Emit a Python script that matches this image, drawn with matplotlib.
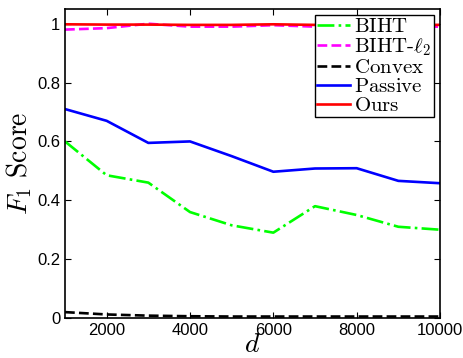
import matplotlib
matplotlib.use('Agg')
import matplotlib.pyplot as plt

plt.rcParams['mathtext.fontset'] = 'cm'
plt.rcParams['font.family'] = ['Liberation Sans', 'DejaVu Sans']

# F1 score vs dimension d
d = [1000, 2000, 3000, 4000, 5000, 6000, 7000, 8000, 9000, 10000]
biht = [0.60, 0.485, 0.46, 0.36, 0.315, 0.29, 0.38, 0.35, 0.31, 0.30]
biht_l2 = [0.98, 0.985, 1.0, 0.99, 0.99, 0.995, 0.99, 0.99, 0.99, 0.99]
convex = [0.02, 0.012, 0.008, 0.006, 0.005, 0.005, 0.005, 0.005, 0.005, 0.005]
passive = [0.71, 0.67, 0.595, 0.60, 0.55, 0.497, 0.508, 0.509, 0.466, 0.458]
ours = [0.998, 0.997, 0.997, 0.996, 0.996, 0.998, 0.996, 0.995, 0.995, 0.996]
labels = [r'$\mathrm{BIHT}$', r'$\mathrm{BIHT}\text{-}\ell_2$', r'$\mathrm{Convex}$',
          r'$\mathrm{Passive}$', r'$\mathrm{Ours}$']

fig = plt.figure(figsize=(4.64, 3.58), dpi=100)
ax = fig.add_axes([65 / 464, 40 / 358, 375 / 464, 309 / 358])

lw = 1.9
ax.plot(d, biht, color=(0, 1, 0), linestyle='-.', lw=lw, label=labels[0])
ax.plot(d, biht_l2, color=(1, 0, 1), linestyle='--', lw=lw, label=labels[1])
ax.plot(d, convex, color='black', linestyle='--', lw=lw, label=labels[2])
ax.plot(d, passive, color=(0, 0, 1), linestyle='-', lw=lw, label=labels[3])
ax.plot(d, ours, color=(1, 0, 0), linestyle='-', lw=lw, label=labels[4])

ax.set_xlim(1000, 10000)
ax.set_ylim(0, 1.05)
ax.set_xticks([2000, 4000, 6000, 8000, 10000])
ax.set_yticks([0, 0.2, 0.4, 0.6, 0.8, 1])
ax.set_yticklabels(['0', '0.2', '0.4', '0.6', '0.8', '1'])
ax.tick_params(direction='in', top=True, right=True, labelsize=12, length=4, width=0.8)
for s in ax.spines.values():
    s.set_linewidth(1.2)

ax.set_xlabel(r'$d$', fontsize=20, labelpad=-4)
ax.set_ylabel(r'$F_1\ \mathrm{Score}$', fontsize=20, labelpad=2)

leg = ax.legend(loc='upper right', fontsize=15, handlelength=1.6, handletextpad=0.2,
                labelspacing=0.0, borderpad=0.1, borderaxespad=0.3, fancybox=False,
                framealpha=1)
leg.get_frame().set_edgecolor('black')
leg.get_frame().set_linewidth(1.0)

fig.savefig('out.png', dpi=100)
